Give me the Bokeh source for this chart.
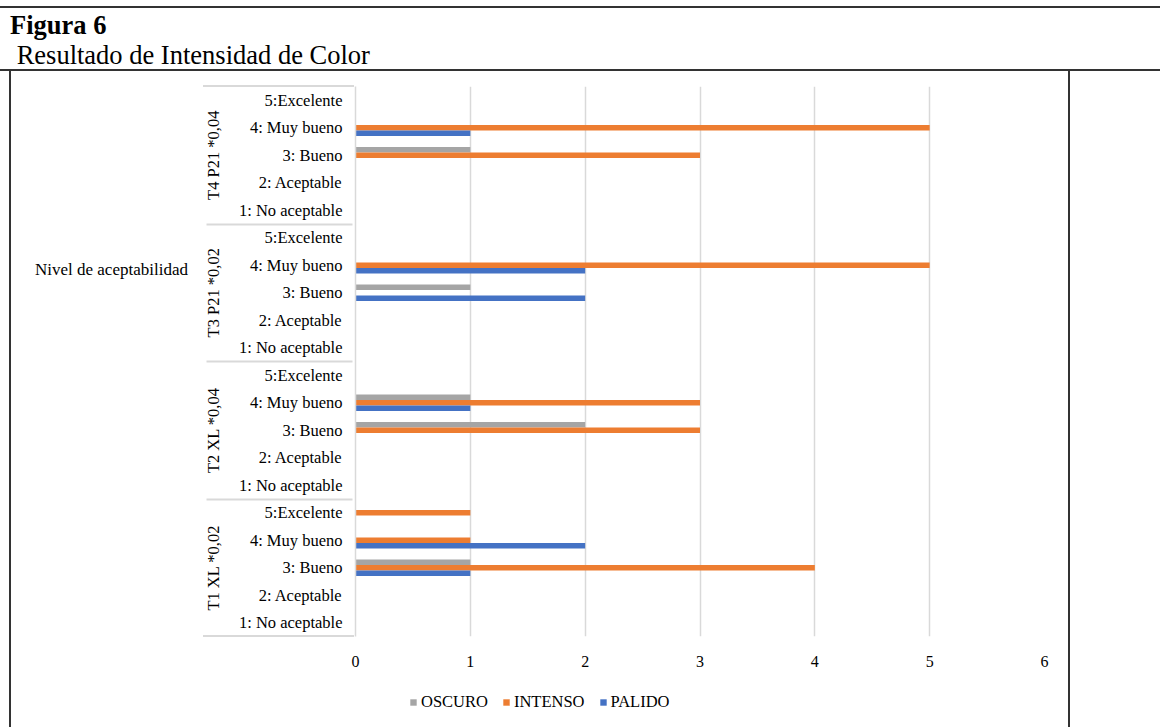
from bokeh.plotting import figure
from bokeh.models import (FactorRange, Range1d, ColumnDataSource, Div,
                          Legend, LegendItem, FixedTicker)
from bokeh.layouts import column, row
from bokeh.transform import dodge
from bokeh.embed import file_html
from bokeh.resources import INLINE

# ---------------- data ----------------
groups = ["T1 XL *0,02", "T2 XL *0,04", "T3 P21 *0,02", "T4 P21 *0,04"]
levels = ["1: No aceptable", "2: Aceptable", "3: Bueno", "4: Muy bueno", "5:Excelente"]
series = ["OSCURO", "INTENSO", "PALIDO"]
colors = ["#A5A5A5", "#ED7D31", "#4472C4"]
# values listed group by group, each group in the order of `levels`
oscuro  = [0, 0, 1, 0, 0,   0, 0, 2, 1, 0,   0, 0, 1, 0, 0,   0, 0, 1, 0, 0]
intenso = [0, 0, 4, 1, 1,   0, 0, 3, 3, 0,   0, 0, 0, 5, 0,   0, 0, 3, 5, 0]
palido  = [0, 0, 1, 2, 0,   0, 0, 0, 1, 0,   0, 0, 2, 2, 0,   0, 0, 0, 1, 0]
x_ticks = [0, 1, 2, 3, 4, 5, 6]
title_bold = "Figura 6"
title_text = "Resultado de Intensidad de Color"
axis_title = "Nivel de aceptabilidad"

FONT = "Liberation Serif"
RULE = "#333333"
SEP = "#D9D9D9"
PAGE_W, PAGE_H = 1160, 727
HEAD_H = 71
LEG_H = 45
SIDE_W = 200
W, H = PAGE_W - SIDE_W, PAGE_H - HEAD_H - LEG_H
BL, BT = 154, 15
FW, FH = 690, 550
BR, BB = W - BL - FW, H - BT - FH
BOX_L, BOX_R = 9, 1068
AXIS_W = 151


def vline(x):
    return f"linear-gradient({RULE},{RULE}) {x}px 0 / 2px 100% no-repeat"


def hsep(y):
    return f"linear-gradient({SEP},{SEP}) {BL - AXIS_W}px {y}px / {AXIS_W}px 2px no-repeat"


# ---------------- header ----------------
header = Div(
    width=PAGE_W, height=HEAD_H, margin=0,
    text=(f'<div style="margin:0;padding:10px 0 0 10px;font-family:\'{FONT}\';'
          f'font-size:26.5px;line-height:30px;color:black;white-space:nowrap">'
          f'<b>{title_bold}</b><br>&nbsp;{title_text}</div>'),
    styles={"background": (f"linear-gradient({RULE},{RULE}) 0 6px / 100% 2px no-repeat, "
                           f"linear-gradient({RULE},{RULE}) 0 69px / 100% 2px no-repeat")},
)

side = Div(
    width=SIDE_W, height=H, margin=0,
    text=(f'<div style="margin:0;padding:189px 0 0 35px;font-family:\'{FONT}\';'
          f'font-size:17px;line-height:20px;color:black;white-space:nowrap">{axis_title}</div>'),
    styles={"background": vline(BOX_L)},
)

# ---------------- chart ----------------
factors = [(g, l) for g in groups for l in levels]
src = ColumnDataSource(dict(y=factors, OSCURO=oscuro, INTENSO=intenso, PALIDO=palido))

p = figure(width=W, height=H, output_backend="svg", toolbar_location=None,
           y_range=FactorRange(*factors, range_padding=0, group_padding=0),
           x_range=Range1d(0, 6),
           min_border_left=BL, min_border_right=BR, min_border_top=BT, min_border_bottom=BB)
p.outline_line_color = None
p.background_fill_color = "white"
p.border_fill_alpha = 0
p.styles = {"background": ", ".join([vline(BOX_R - SIDE_W), hsep(BT - 1), hsep(BT + FH - 1)])}

offsets = [0.2, 0.0, -0.2]
for s, c, off in zip(series, colors, offsets):
    p.hbar(y=dodge("y", off, range=p.y_range), right=s, left=0, height=0.2,
           source=src, fill_color=c, line_color=None)

p.xaxis.ticker = FixedTicker(ticks=x_ticks)
p.xaxis.axis_line_color = None
p.xaxis.major_tick_line_color = None
p.xaxis.minor_tick_line_color = None
p.xaxis.major_tick_out = 0
p.xaxis.major_label_standoff = 19
p.xaxis.major_label_text_font = FONT
p.xaxis.major_label_text_font_size = "16px"
p.xaxis.major_label_text_color = "black"

ya = p.yaxis[0]
ya.axis_line_color = SEP
ya.axis_line_width = 1.5
ya.major_tick_line_color = None
ya.minor_tick_line_color = None
ya.major_tick_out = 0
ya.major_label_standoff = 13
ya.major_label_text_font = FONT
ya.major_label_text_font_size = "16.5px"
ya.major_label_text_color = "black"
ya.group_text_font = FONT
ya.group_text_font_size = "16.5px"
ya.group_text_font_style = "normal"
ya.group_text_color = "black"
ya.separator_line_color = SEP
ya.separator_line_width = 2

p.xgrid.grid_line_color = SEP
p.xgrid.grid_line_width = 1.5
p.ygrid.visible = False

# ---------------- legend strip ----------------
pl = figure(width=PAGE_W, height=LEG_H, output_backend="svg", toolbar_location=None,
            x_range=Range1d(0, 1), y_range=Range1d(0, 1),
            x_axis_location=None, y_axis_location=None, min_border=0)
pl.grid.visible = False
pl.outline_line_color = None
pl.background_fill_alpha = 0
pl.border_fill_alpha = 0
pl.styles = {"background": vline(BOX_L) + ", " + vline(BOX_R)}
# swatch renderers: one bar each, placed outside the visible range
leg_renderers = [pl.hbar(y=[-10], left=[0], right=[1], height=0.1, fill_color=c, line_color=None)
                 for c in colors]
legend = Legend(items=[LegendItem(label=s, renderers=[r]) for s, r in zip(series, leg_renderers)],
                orientation="horizontal", location=(409, 15),
                glyph_width=8, glyph_height=8, label_standoff=4, spacing=14,
                padding=0, margin=0, border_line_color=None, background_fill_alpha=0,
                label_text_font=FONT, label_text_font_size="16.5px", label_text_color="black")
pl.add_layout(legend)

layout = column(header, row(side, p, spacing=0), pl, spacing=0)
open("out.html", "w").write(file_html(layout, INLINE))
